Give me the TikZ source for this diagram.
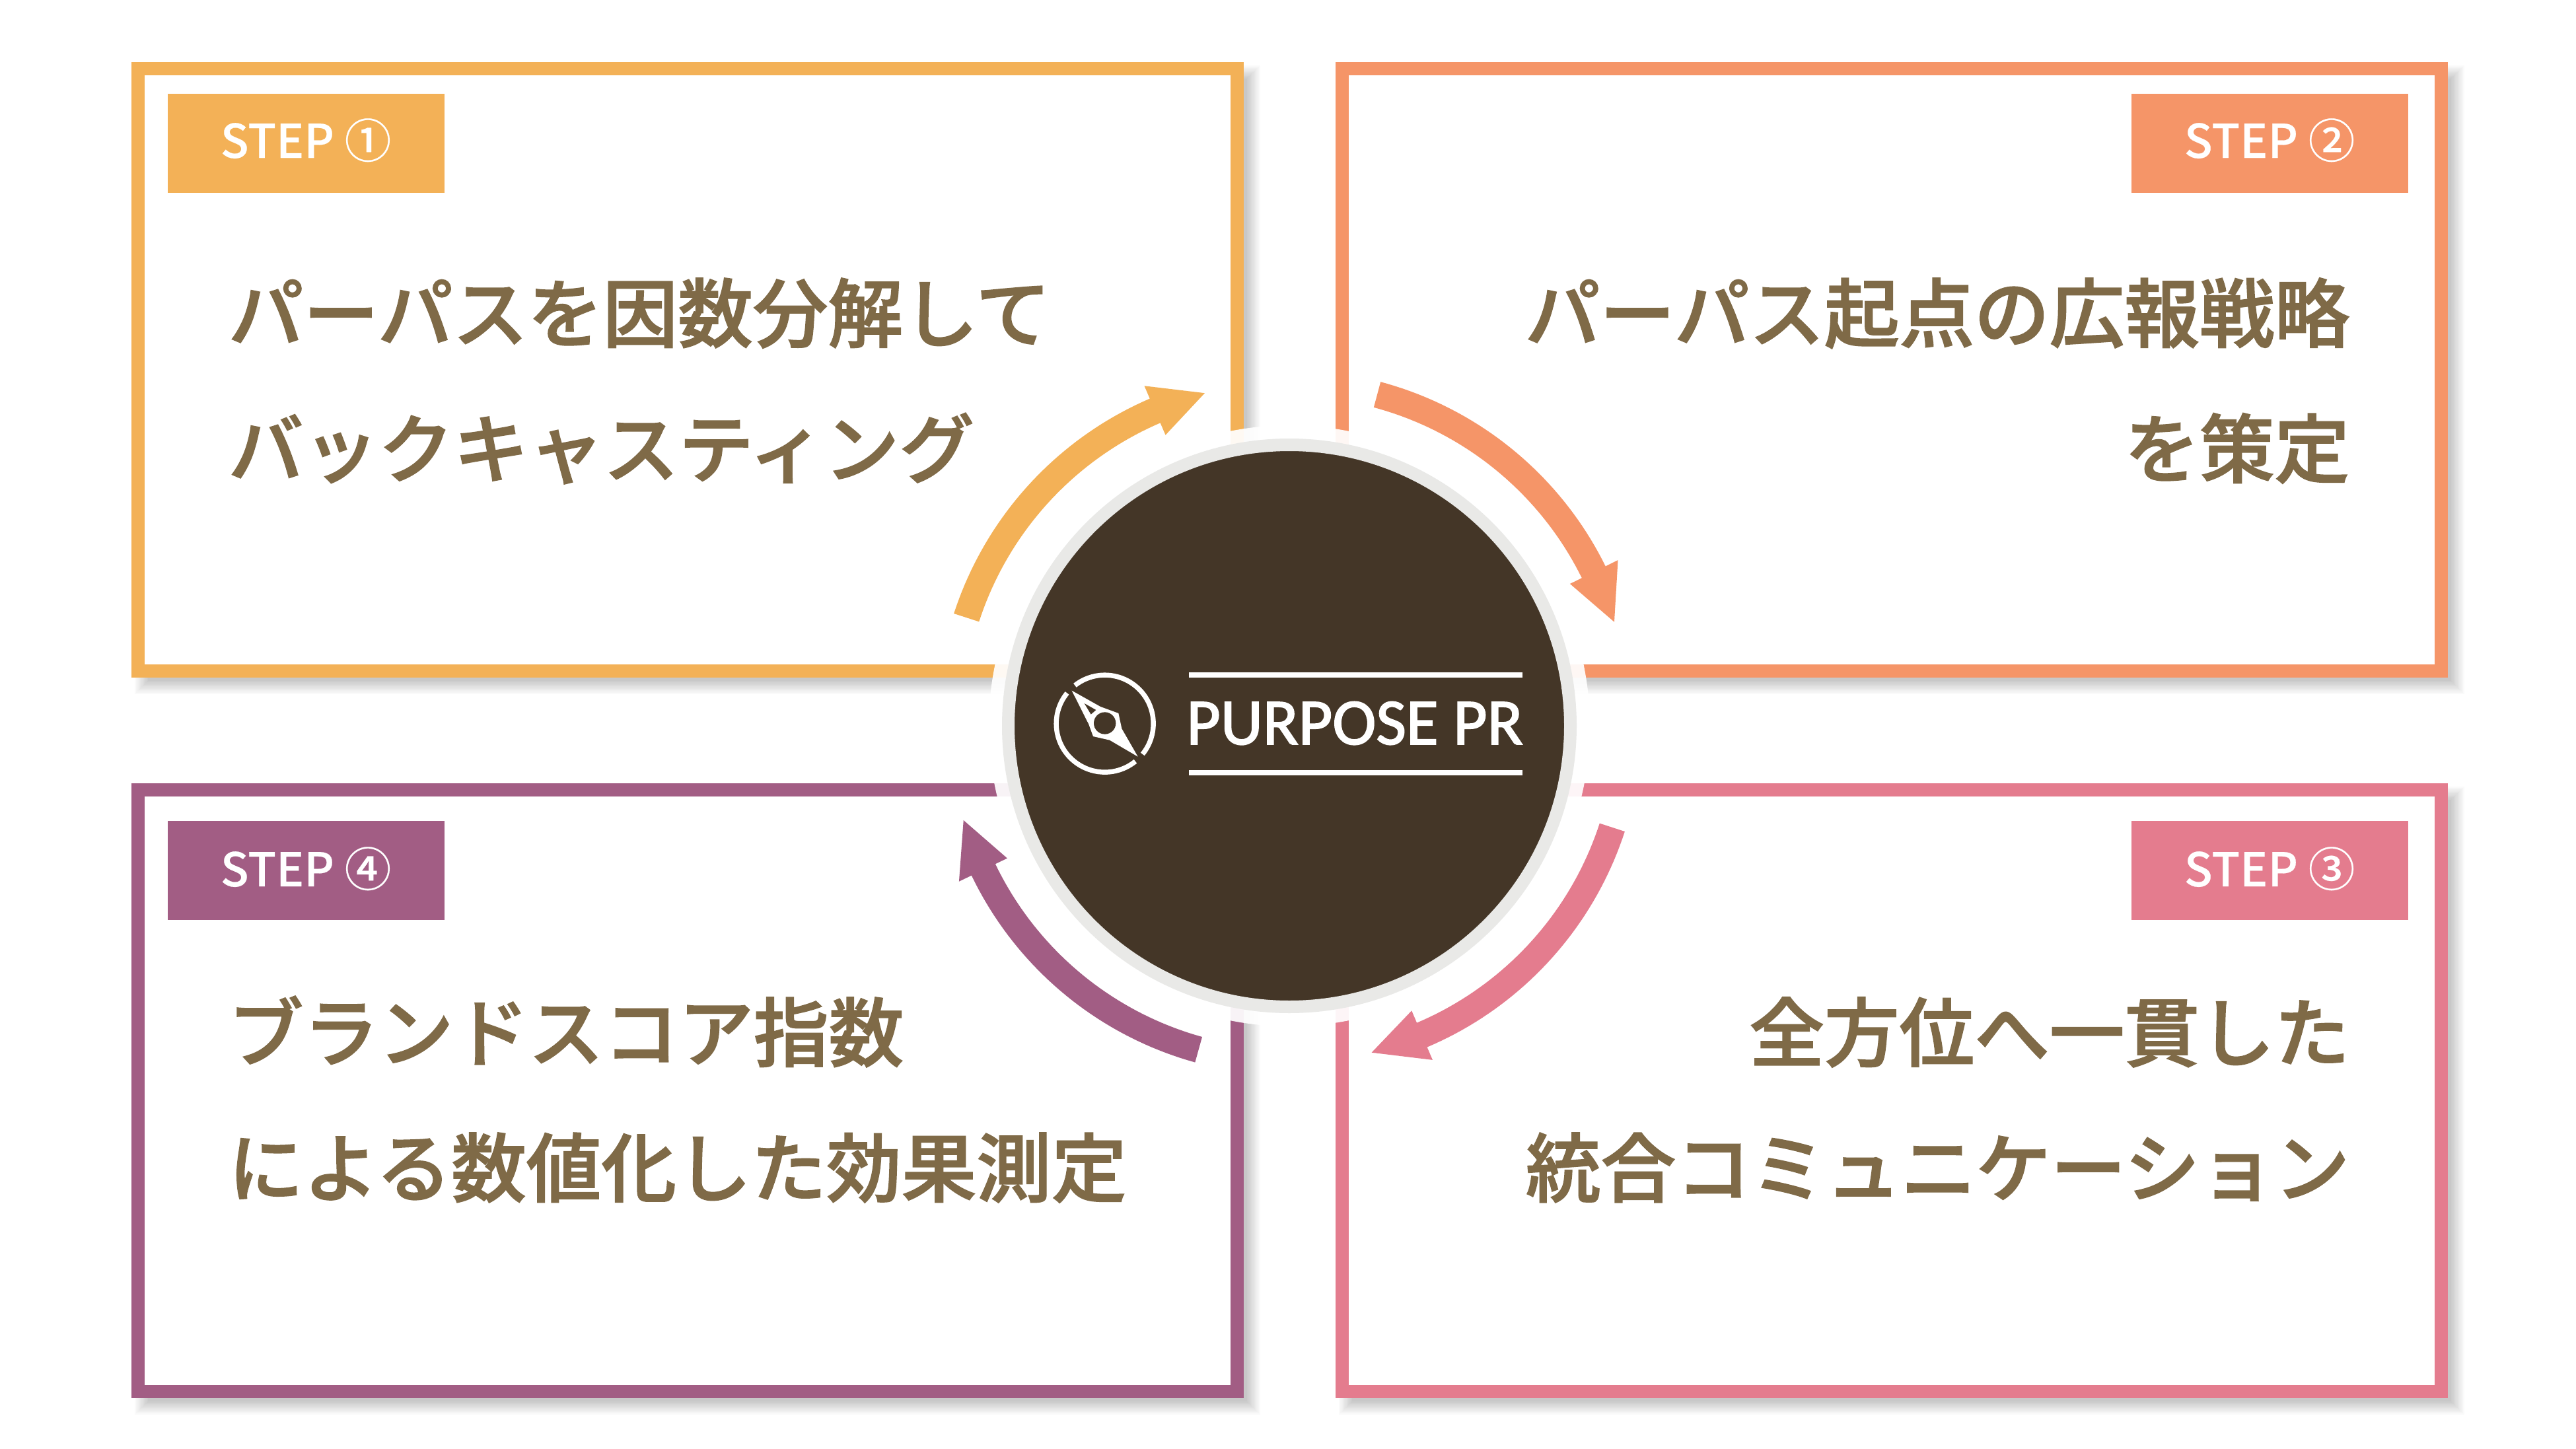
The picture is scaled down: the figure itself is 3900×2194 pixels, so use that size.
\documentclass[tikz,border=0pt]{standalone}
\usepackage{fontspec}
\newfontfamily\jp[FakeBold=1.6]{Noto Sans CJK JP Medium}
\newfontfamily\jptag[FakeBold=0.3]{Noto Sans CJK JP Medium}
\newfontfamily\logofont[FakeBold=1.8]{Carlito}
\definecolor{cyellow}{HTML}{F3B157}
\definecolor{csalmon}{HTML}{F59568}
\definecolor{cpink}{HTML}{E47C8E}
\definecolor{cpurple}{HTML}{A25D84}
\definecolor{cdark}{HTML}{443627}
\definecolor{cring}{HTML}{E9E9E7}
\definecolor{ctext}{HTML}{7F6A47}
\tikzset{
  bodytext/.style={inner sep=0pt,text=ctext,font=\jp\fontsize{28.4pt}{28.4pt}\selectfont},
  bodyleft/.style={bodytext,anchor=base west},
  bodyright/.style={bodytext,anchor=base east},
  tagbox/.style={rectangle,inner sep=0pt,minimum width=104.75pt,minimum height=37.5pt},
  tagtext/.style={inner sep=0pt,anchor=base,text=white,font=\jptag\fontsize{17.6pt}{17.6pt}\selectfont},
}
% x0 y0 x1 y1 (outer edges) colour
\newcommand{\stepframe}[5]{%
  \foreach \e in {-10,-8,...,10}{
    \fill[black,opacity=.02] (#1+15-\e,#2+15-\e) rectangle (#3+15+\e,#4+15+\e);
  }
  \draw[#5,fill=white,line width=5pt,line join=miter] (#1+10,#2+10) rectangle (#3-10,#4-10);
}
% colour, tail angle, junction angle, tip angle (screen angles about the hub)
\newcommand{\cyclearrow}[4]{%
  \begin{scope}[shift={(arrowhub)}]
    \fill[#1] plot[domain=#2:#3,samples=40] (\x:534)
      -- (#3:555) -- (#4:515) -- (#3:474) -- (#3:494)
      -- plot[domain=#3:#2,samples=40] (\x:494) -- cycle;
  \end{scope}
}
\begin{document}
\begin{tikzpicture}[x=.25pt,y=-.25pt]
  \useasboundingbox (0,0) rectangle (3900,2194);
  \fill[white] (0,0) rectangle (3900,2194);

  \stepframe{199}{94}{1883}{1026}{cyellow}
  \stepframe{2022}{94}{3706}{1026}{csalmon}
  \stepframe{2022}{1186}{3706}{2117}{cpink}
  \stepframe{199}{1186}{1883}{2117}{cpurple}

  \node[tagbox,fill=cyellow] (tag1) at (463,217) {};
  \node[tagbox,fill=csalmon] (tag2) at (3436,217) {};
  \node[tagbox,fill=cpink] (tag3) at (3436,1318) {};
  \node[tagbox,fill=cpurple] (tag4) at (463,1318) {};
  \node[tagtext] (tag1t) at (463,239) {STEP ①};
  \node[tagtext] (tag2t) at (3436,239) {STEP ②};
  \node[tagtext] (tag3t) at (3436,1342) {STEP ③};
  \node[tagtext] (tag4t) at (463,1342) {STEP ④};

  \node[bodyleft] (t1a) at (345,517) {パーパスを因数分解して};
  \node[bodyleft] (t1b) at (345,722) {バックキャスティング};
  \node[bodyright] (t2a) at (3558,517) {パーパス起点の広報戦略};
  \node[bodyright] (t2b) at (3558,722) {を策定};
  \node[bodyright] (t3a) at (3558,1606) {全方位へ一貫した};
  \node[bodyright] (t3b) at (3558,1811) {統合コミュニケーション};
  \node[bodyleft] (t4a) at (345,1606) {ブランドスコア指数};
  \node[bodyleft] (t4b) at (345,1811) {による数値化した効果測定};

  \fill[white,opacity=.93] (1952,1099) circle[radius=455];

  \coordinate (arrowhub) at (1952,1094);
  \cyclearrow{cyellow}{-162}{-113.3}{-104.4}
  \cyclearrow{csalmon}{-75}{-26.3}{-17.2}
  \cyclearrow{cpink}{18}{67}{76}
  \cyclearrow{cpurple}{105.5}{154.3}{163.3}

  \node[circle,inner sep=0pt,minimum size=212.75pt,fill=cdark,draw=cring,line width=4.75pt] (hub) at (1952,1099) {};

  % compass mark
  \begin{scope}[shift={(1580,1000)},x=.08333pt,y=-.08333pt]
    \draw[white,line width=1.85pt] (278,287) ++(39:220.5) arc[start angle=-39,end angle=128,radius=18.375pt];
    \draw[white,line width=1.85pt] (278,287) ++(-141:220.5) arc[start angle=141,end angle=309,radius=18.375pt];
    \fill[white] (128,137) -- (258,210) -- (340,240) -- (355,310) -- (428,437)
      -- (300,362) -- (225,345) -- (205,290) -- cycle;
    \fill[cdark] (185,195) -- (238,225) -- (215,245) -- cycle;
    \fill[cdark] (278,285) circle[radius=50];
  \end{scope}

  % logo word
  \fill[white] (1800,1018) rectangle (2305,1026);
  \fill[white] (1800,1166) rectangle (2305,1174);
  \node[inner sep=0pt,anchor=base,text=white,font=\logofont\fontsize{24.9pt}{24.9pt}\selectfont] (logo) at (2051,1127) {PURPOSE PR};
\end{tikzpicture}
\end{document}
